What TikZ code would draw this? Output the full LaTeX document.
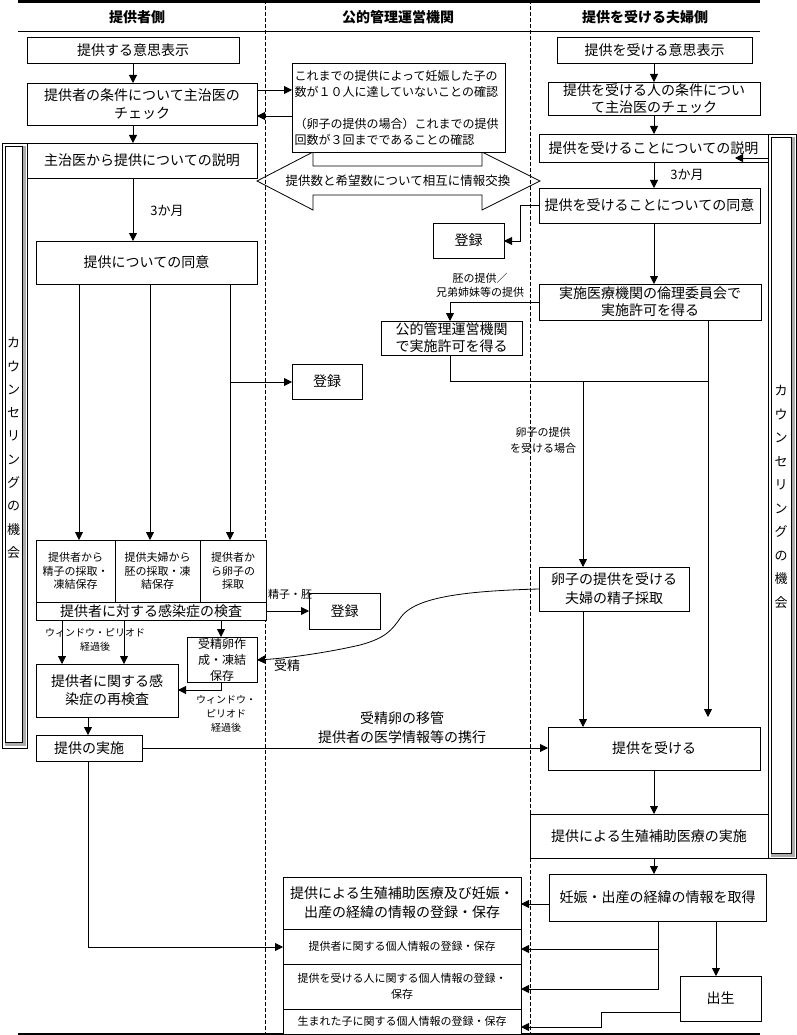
\documentclass[tikz,border=0pt]{standalone}
\usepackage{fontspec}
\setmainfont{Noto Sans CJK JP}
\usetikzlibrary{arrows.meta}
\newcommand\fsA{\fontsize{14}{18}\selectfont}
\newcommand\fsB{\fontsize{12}{16}\selectfont}
\newcommand\fsC{\fontsize{11}{13.5}\selectfont}
\newcommand\fsD{\fontsize{10}{14}\selectfont}
\newcommand\fsH{\fontsize{14}{16}\selectfont\bfseries}
\newcommand\bx[7][]{\node[box,minimum width={(#5-#3)*1pt},minimum height={(#6-#4)*1pt},#1] (#2) at ({(#3+#5)/2},{(#4+#6)/2}) {#7};}
\tikzset{
  box/.style={draw, fill=white, inner sep=0pt, outer sep=0pt, align=center, font=\fsA},
  lbl/.style={inner sep=0pt, align=center},
  arr/.style={-{Triangle[length=8pt,width=8pt]}},
}
\begin{document}
\begin{tikzpicture}[x=1pt,y=-1pt,line width=0.8pt]
\useasboundingbox (0,0) rectangle (796,1035);
% frame
\fill (18,0) rectangle (760,3);
\draw (18,31) -- (760,31);
\draw[dashed,dash pattern=on 4pt off 2pt] (265,0) -- (265,1034);
\draw[dashed,dash pattern=on 4pt off 2pt] (530,0) -- (530,1034);
\draw[line width=1.2pt] (18,1034) -- (760,1034);
\node[lbl,font=\fsH] (h1) at (137,17) {提供者側};
\node[lbl,font=\fsH] (h2) at (398,17) {公的管理運営機関};
\node[lbl,font=\fsH] (h3) at (645,17) {提供を受ける夫婦側};
% counseling bars
\draw[fill=white] (2,143) rectangle (27,748);
\fill[gray!65] (22,146) rectangle (26,746);
\fill[gray!65] (5,742) rectangle (26,746);
\draw[line width=0.6pt] (5,146) rectangle (22,742);
\node[lbl,font=\fontsize{13}{23.3}\selectfont] (cb1) at (13.5,448) {カ\\ウ\\ン\\セ\\リ\\ン\\グ\\の\\機\\会};
\draw[fill=white] (768,134) rectangle (796,858);
\fill[gray!65] (791,137) rectangle (795,857);
\fill[gray!65] (771,853) rectangle (795,857);
\draw[line width=0.6pt] (771,137) rectangle (791,853);
\node[lbl,font=\fontsize{13}{23.5}\selectfont] (cb2) at (781,497) {カ\\ウ\\ン\\セ\\リ\\ン\\グ\\の\\機\\会};
% block double arrow
\draw (257,181) -- (313,152) -- (313,166) -- (482,166) -- (482,152) -- (540,181) -- (482,210) -- (482,195) -- (313,195) -- (313,210) -- cycle;
\node[lbl,font=\fontsize{12.5}{15}\selectfont] (xch) at (398,181) {提供数と希望数について相互に情報交換};
% left lane
\bx{L1}{27}{37}{239}{63}{提供する意思表示}
\bx{L2}{27}{83}{257}{125}{提供者の条件について主治医の\\チェック}
\bx{L3}{27}{143}{257}{178}{主治医から提供についての説明}
\bx{L4}{36}{241}{257}{284}{提供についての同意}
\bx{G1}{292}{364}{362}{399}{登録}
\bx[font=\fsC]{C1}{36}{540}{115}{602}{提供者から\\精子の採取・\\凍結保存}
\bx[font=\fsC]{C2}{115}{540}{200}{602}{提供夫婦から\\胚の採取・凍\\結保存}
\bx[font=\fsC]{C3}{200}{540}{266}{602}{提供者か\\ら卵子の\\採取}
\bx{C4}{36}{602}{266}{620}{提供者に対する感染症の検査}
\bx{G2}{309}{593}{380}{629}{登録}
\bx[font=\fsB]{F}{187}{637}{257}{682}{受精卵作\\成・凍結\\保存}
\bx{RE}{36}{664}{178}{717}{提供者に関する感\\染症の再検査}
\bx{IM}{36}{735}{142}{761}{提供の実施}
% middle lane
\bx[font=\fsB,align=left,text width=208pt]{K}{292}{63}{505}{152}{これまでの提供によって妊娠した子の\\数が１０人に達していないことの確認\\[16pt]（卵子の提供の場合）これまでの提供\\回数が３回までであることの確認}
\bx{G3}{433}{223}{504}{258}{登録}
\bx[font=\fontsize{14}{17}\selectfont]{P}{381}{321}{522}{355}{公的管理運営機関\\で実施許可を得る}
% right lane
\bx{R1}{557}{37}{752}{63}{提供を受ける意思表示}
\bx[font=\fontsize{14}{17}\selectfont]{R2}{548}{82}{760}{115}{提供を受ける人の条件につい\\て主治医のチェック}
\bx{R3}{539}{134}{768}{162}{提供を受けることについての説明}
\bx{R4}{539}{188}{760}{223}{提供を受けることについての同意}
\bx[font=\fontsize{14}{17}\selectfont]{R5}{539}{284}{761}{320}{実施医療機関の倫理委員会で\\実施許可を得る}
\bx[font=\fontsize{14}{19}\selectfont]{R6}{539}{567}{689}{611}{卵子の提供を受ける\\夫婦の精子採取}
\bx{R7}{548}{727}{760}{770}{提供を受ける}
\bx{R8}{530}{814}{768}{858}{提供による生殖補助医療の実施}
\bx{R9}{549}{874}{766}{921}{妊娠・出産の経緯の情報を取得}
\bx{R10}{680}{976}{761}{1021}{出生}
% stacked register
\bx[font=\fontsize{14}{19}\selectfont]{S1}{283}{877}{521}{929}{提供による生殖補助医療及び妊娠・\\出産の経緯の情報の登録・保存}
\bx[font=\fsC]{S2}{283}{929}{521}{964}{提供者に関する個人情報の登録・保存}
\bx[font=\fontsize{11}{16}\selectfont]{S3}{283}{964}{521}{1009}{提供を受ける人に関する個人情報の登録・\\保存}
\bx[font=\fsC]{S4}{283}{1009}{521}{1034}{生まれた子に関する個人情報の登録・保存}
% labels
\node[lbl,font=\fontsize{13}{15}\selectfont] (t1) at (167,211) {3か月};
\node[lbl,font=\fontsize{13}{15}\selectfont] (t2) at (687,175) {3か月};
\node[lbl,font=\fsC] (t3) at (290,594) {精子・胚};
\node[lbl,font=\fsD] (t4) at (95,640) {ウィンドウ・ピリオド\\経過後};
\node[lbl,font=\fsD] (t5) at (226,714) {ウィンドウ・\\ピリオド\\経過後};
\node[lbl,font=\fontsize{13}{15}\selectfont] (t6) at (287,666) {受精};
\node[lbl,font=\fontsize{14}{19}\selectfont] (t7) at (402,728) {受精卵の移管\\提供者の医学情報等の携行};
\node[lbl,font=\fontsize{11}{14}\selectfont] (t8) at (480,285) {胚の提供／\\兄弟姉妹等の提供};
\node[lbl,font=\fontsize{11}{16}\selectfont] (t9) at (543,440) {卵子の提供\\を受ける場合};
% connectors left
\draw[arr] (L1.south) -- (L1.south |- L2.north);
\draw[arr] (133,0 |- L2.south) -- (133,0 |- L3.north);
\draw[arr] (L2.east |- 0,90) -- (K.west |- 0,90);
\draw[arr] (K.west |- 0,116) -- (L2.east |- 0,116);
\draw[arr] (133,0 |- L3.south) -- (133,0 |- L4.north);
\draw[arr] (79,0 |- L4.south) -- (79,0 |- C1.north);
\draw[arr] (150,0 |- L4.south) -- (150,0 |- C2.north);
\draw[arr] (230,0 |- L4.south) -- (230,0 |- C3.north);
\coordinate (j1) at (230,382);
\draw[arr] (j1) -- (G1.west |- j1);
\draw[arr] (C4.east) -- (G2.west);
\draw[arr] (62,0 |- C4.south) -- (62,0 |- RE.north);
\draw[arr] (124,0 |- C4.south) -- (124,0 |- RE.north);
\draw[arr] (221,0 |- C4.south) -- (221,0 |- F.north);
\draw[arr] (221,0 |- F.south) -- (221,690) -- (RE.east |- 0,690);
\draw[arr] (88,0 |- RE.south) -- (88,0 |- IM.north);
\draw[arr] (IM.east) -- (R7.west |- IM.east);
\draw[arr] (88,0 |- IM.south) -- (88,947) -- (S2.west |- 0,947);
\draw[arr] (R6.west) .. controls (460,591) and (415,598) .. (401,617) .. controls (392,630) and (386,638) .. (360,645) .. controls (330,652) and (290,658) .. (F.east |- 0,660);
% connectors right
\draw[arr] (654,0 |- R1.south) -- (654,0 |- R2.north);
\draw[arr] (654,0 |- R2.south) -- (654,0 |- R3.north);
\draw[arr] (R3.east |- 0,158) -- (735,158);
\draw[arr] (654,0 |- R3.south) -- (654,0 |- R4.north);
\draw[arr] (654,0 |- R4.south) -- (654,0 |- R5.north);
\draw[arr] (R4.west) -- (520,0 |- R4.west) -- (520,241) -- (G3.east |- 0,241);
\draw[arr] (R5.west) -- (450,0 |- R5.west) -- (450,0 |- P.north);
\draw (450,0 |- P.south) -- (450,381) -- (708,381);
\draw[arr] (708,0 |- R5.south) -- (708,717);
\draw[arr] (583,381) -- (583,0 |- R6.north);
\draw[arr] (583,0 |- R6.south) -- (583,0 |- R7.north);
\draw[arr] (654,0 |- R7.south) -- (654,0 |- R8.north);
\draw[arr] (654,0 |- R8.south) -- (654,0 |- R9.north);
\draw[arr] (R9.west |- 0,904) -- (S1.east |- 0,904);
\draw[arr] (658,0 |- R9.south) -- (658,989) -- (S3.east |- 0,989);
\draw[arr] (658,949) -- (S2.east |- 0,949);
\draw[arr] (716,0 |- R9.south) -- (716,0 |- R10.north);
\draw[arr] (R10.west |- 0,1012) -- (601,1012) -- (601,1027) -- (S4.east |- 0,1027);
\end{tikzpicture}
\end{document}
